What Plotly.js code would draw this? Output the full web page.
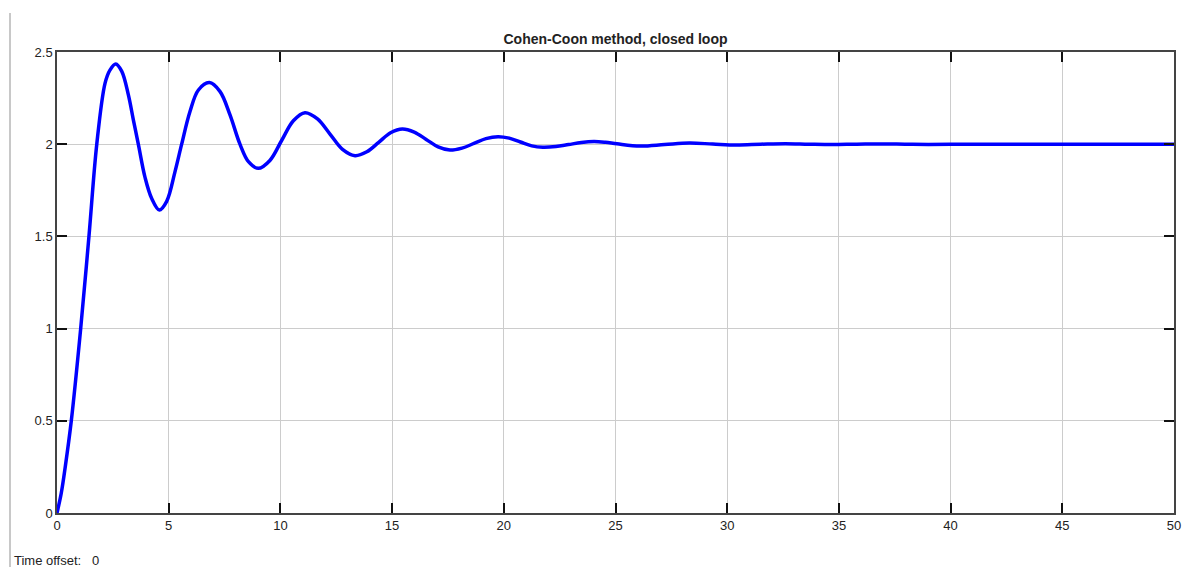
<!DOCTYPE html>
<html>
<head>
<meta charset="utf-8">
<script src="https://cdn.plot.ly/plotly-3.0.1.min.js"></script>
<style>
  html, body { margin: 0; padding: 0; background: #fff; }
  #chart { width: 1182px; height: 567px; position: relative; }
  #frame { position: absolute; left: 9px; top: 13px; width: 2px; height: 554px; background: #c8c8c8; z-index: 5; }
</style>
</head>
<body>
<div id="chart"><div id="frame"></div></div>
<script>
// Time samples (s) and response
const timeValues = [0, 0.19, 0.37, 0.64, 1.06, 1.43, 1.78, 2.149, 2.37, 2.63, 2.9, 3.19, 3.42, 3.64, 3.94, 4.24, 4.58, 4.91, 5.28, 5.58, 5.95, 6.33, 6.82, 7.30, 7.74, 8.19, 8.57, 9.01, 9.53, 10.055, 10.58, 11.10, 11.66, 12.22, 12.78, 13.34, 13.87, 14.40, 14.93, 15.46, 15.99, 16.525, 17.06, 17.59, 18.13, 18.665, 19.2, 19.74, 20.24, 20.745, 21.25, 21.75, 22.33, 22.9, 23.47, 24.04, 24.55, 25.07, 26.1, 27.2, 28.3, 29.35, 30.4, 31.5, 32.6, 33.65, 34.7, 35.8, 36.9, 37.95, 39.0, 40.5, 42.0, 44.0, 46.0, 48.0, 50.0];
const responseValues = [0, 0.107, 0.251, 0.5, 1.0, 1.5, 2.0, 2.33, 2.402, 2.435, 2.395, 2.27, 2.131, 2.0, 1.82, 1.705, 1.643, 1.69, 1.85, 2.0, 2.176, 2.294, 2.334, 2.285, 2.16, 2.0, 1.905, 1.869, 1.912, 2.02, 2.127, 2.171, 2.137, 2.055, 1.972, 1.938, 1.959, 2.01, 2.062, 2.083, 2.066, 2.026, 1.985, 1.968, 1.979, 2.004, 2.03, 2.041, 2.033, 2.012, 1.991, 1.983, 1.987, 1.998, 2.009, 2.014, 2.01, 2.002, 1.99, 1.998, 2.006, 2.001, 1.996, 2.0, 2.003, 2.0, 1.998, 2.0, 2.001, 2.0, 1.999, 2.0, 2.0, 2.0, 2.0, 2.0, 2.0];
const xTicks = [0, 5, 10, 15, 20, 25, 30, 35, 40, 45, 50];
const yTicks = [0, 0.5, 1, 1.5, 2, 2.5];
const yTickLabels = ['0', '0.5', '1', '1.5', '2', '2.5'];

const fontFamily = 'Liberation Sans, Arial, sans-serif';

const trace = {
  x: timeValues,
  y: responseValues,
  type: 'scatter',
  mode: 'lines',
  line: { color: '#0000ff', width: 3.5, shape: 'spline', smoothing: 1 },
  hoverinfo: 'x+y'
};

const axisCommon = {
  showline: true,
  linecolor: '#444',
  linewidth: 1.5,
  mirror: 'ticks',
  ticks: 'inside',
  ticklen: 10,
  tickwidth: 1.5,
  tickcolor: '#111',
  showgrid: true,
  gridcolor: '#cccccc',
  gridwidth: 1,
  zeroline: false,
  tickfont: { family: fontFamily, size: 13, color: '#222' }
};

const layout = {
  width: 1182,
  height: 567,
  margin: { l: 57, r: 8, t: 52, b: 54 },
  paper_bgcolor: '#ffffff',
  plot_bgcolor: '#ffffff',
  showlegend: false,
  title: {
    text: '<b>Cohen-Coon method, closed loop</b>',
    font: { family: fontFamily, size: 14, color: '#222' },
    x: 0.5, xref: 'paper', xanchor: 'center',
    y: 1, yref: 'paper', yanchor: 'bottom', pad: { b: 8 }
  },
  xaxis: Object.assign({}, axisCommon, {
    range: [0, 50],
    tickvals: xTicks,
    ticktext: xTicks.map(String)
  }),
  yaxis: Object.assign({}, axisCommon, {
    range: [0, 2.5],
    tickvals: yTicks,
    ticktext: yTickLabels
  }),
  annotations: [{
    text: 'Time offset:&nbsp;&nbsp; 0',
    xref: 'paper', yref: 'paper',
    x: -0.040, y: -0.104,
    xanchor: 'left', yanchor: 'middle',
    showarrow: false,
    font: { family: fontFamily, size: 13, color: '#222' }
  }]
};

Plotly.newPlot('chart', [trace], layout, { displayModeBar: false });
</script>
</body>
</html>
